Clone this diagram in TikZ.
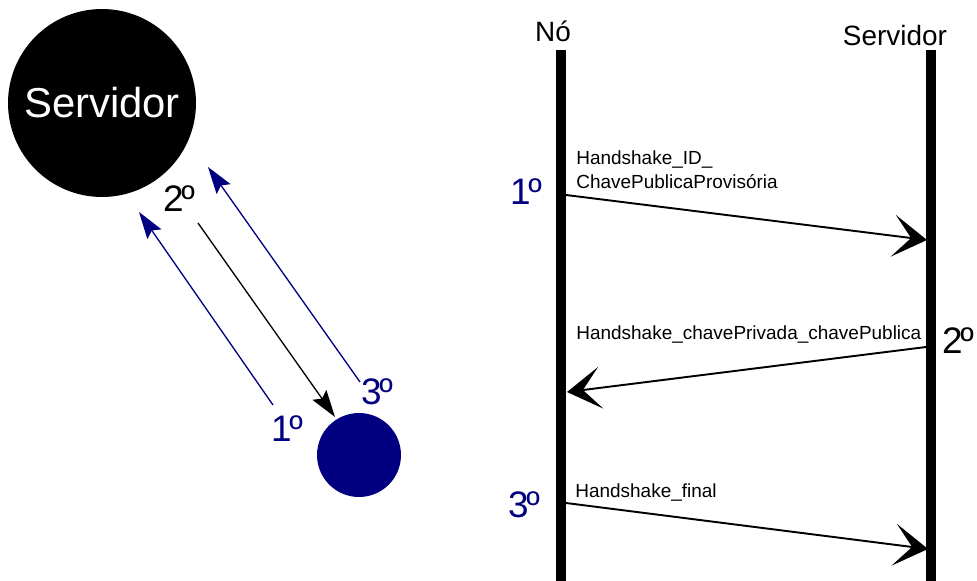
\documentclass[tikz,border=0pt]{standalone}
\usepackage{fontspec}
\setmainfont{Liberation Sans}
\usepackage{tikz}
\usetikzlibrary{arrows.meta,positioning,calc}
\definecolor{noBlue}{HTML}{000080}
\tikzset{
  lifeline/.style = {line width=5.7pt, line cap=butt},
  msg/.style = {line width=1.1pt, -{Stealth[length=0.68cm, width=0.84cm, inset=0.36cm]}},
  flow/.style = {line width=0.75pt, -{Stealth[length=0.54cm, width=0.34cm, inset=0.09cm]}},
  ordlab/.style = {font=\fontsize{21}{23}\selectfont, inner sep=0pt},
  msglab/.style = {anchor=base west, align=left, inner sep=0pt, font=\fontsize{10.8}{13.6}\selectfont},
  headlab/.style = {anchor=base, inner sep=0pt, font=\fontsize{15.9}{18}\selectfont},
}
\newcommand{\ordn}[1]{#1\kern-1.2pt º}

\begin{document}
\begin{tikzpicture}[x=0.02cm,y=-0.02cm]
  \useasboundingbox (0,0) rectangle (977,581);

  % left: the two parties
  \node[circle, fill=black, minimum size=3.76cm, inner sep=0pt, text=white,
        font=\fontsize{23.8}{26}\selectfont] (srv) at (102,103) {Servidor};
  \node[circle, fill=noBlue, minimum size=1.68cm, inner sep=0pt] (no) at (359,455) {};

  \coordinate (a1s) at (273,405);
  \coordinate (a1e) at (139,212);
  \coordinate (a2s) at (198,223);
  \coordinate (a2e) at (335,417);
  \coordinate (a3s) at (360,382);
  \coordinate (a3e) at (208,167);
  \draw[flow, noBlue] (a1s) -- (a1e);
  \draw[flow, black] (a2s) -- (a2e);
  \draw[flow, noBlue] (a3s) -- (a3e);

  \node[ordlab] (l2) at (179,199) {\ordn{2}};
  \node[ordlab, text=noBlue] (l1) at (287,429) {\ordn{1}};
  \node[ordlab, text=noBlue] (l3) at (377,392) {\ordn{3}};

  % right: sequence
  \node[headlab] (hNo) at (553,42) {Nó};
  \node[headlab] (hSrv) at (895,46) {Servidor};
  \coordinate (noTop) at (561,50);
  \coordinate (noBot) at (561,581);
  \coordinate (srvTop) at (931,50);
  \coordinate (srvBot) at (931,581);
  \draw[lifeline] (noTop) -- (noBot);
  \draw[lifeline] (srvTop) -- (srvBot);

  \coordinate (m1a) at (566,195);
  \coordinate (m1b) at (927,240);
  \coordinate (m2a) at (926,347);
  \coordinate (m2b) at (567,392);
  \coordinate (m3a) at (566,503);
  \coordinate (m3b) at (928,549);
  \draw[msg] (m1a) -- (m1b);
  \draw[msg] (m2a) -- (m2b);
  \draw[msg] (m3a) -- (m3b);

  \node[msglab] (t1) at (576,188) {Handshake\_ID\_\\ChavePublicaProvisória};
  \node[msglab] (t2) at (576,339) {Handshake\_chavePrivada\_chavePublica};
  \node[msglab] (t3) at (575,497) {Handshake\_final};

  \node[ordlab, text=noBlue] (r1) at (526,192) {\ordn{1}};
  \node[ordlab] (r2) at (958,341) {\ordn{2}};
  \node[ordlab, text=noBlue] (r3) at (524,505) {\ordn{3}};
\end{tikzpicture}
\end{document}
